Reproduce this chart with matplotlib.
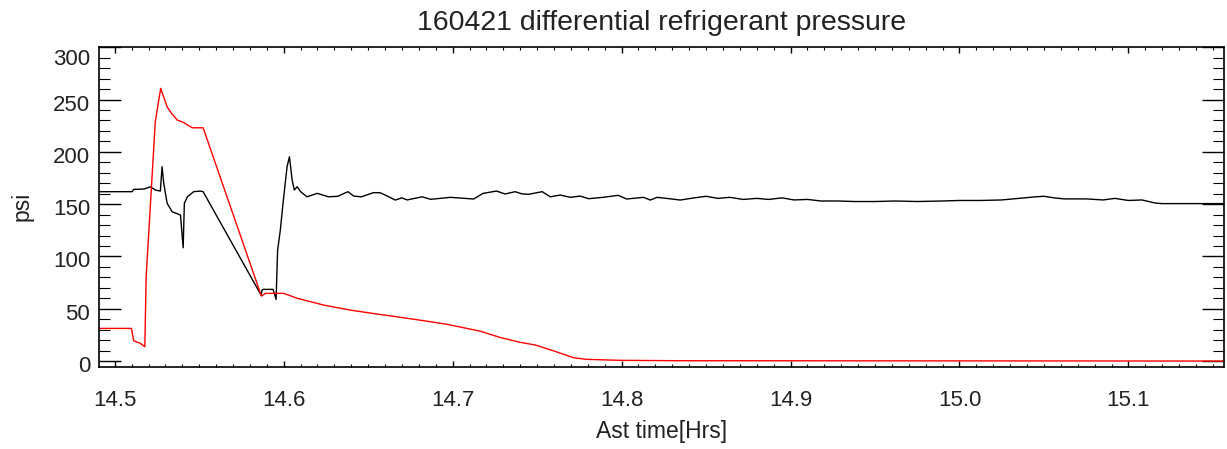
import matplotlib
matplotlib.use("Agg")
import matplotlib.pyplot as plt
from matplotlib.ticker import MultipleLocator, FixedLocator
import matplotlib.transforms as mtransforms

plt.rcParams['font.family'] = ['Liberation Sans', 'DejaVu Sans']

# ---- data ----
time_red = [14.4904, 14.5099, 14.5112, 14.5150, 14.5178, 14.5186, 14.5240, 14.5272,
            14.5310, 14.5340, 14.5370, 14.5408, 14.5458, 14.5523, 14.5868, 14.5892,
            14.5940, 14.6000, 14.6080, 14.6237, 14.6390, 14.6550, 14.6710, 14.6868,
            14.6967, 14.7160, 14.7280, 14.7400, 14.7490, 14.7600, 14.7716, 14.7795,
            14.7990, 14.8350, 14.9500, 15.1570]
psi_red = [31.2, 31.2, 19.4, 17.0, 13.7, 80.6, 228.8, 260.7,
           243.0, 236.0, 230.4, 228.0, 223.0, 223.0, 62.1, 64.7,
           64.7, 64.7, 60.0, 53.5, 48.8, 45.0, 41.4, 37.6,
           35.1, 28.7, 22.6, 17.9, 15.3, 9.6, 3.2, 1.6,
           0.7, 0.3, 0.2, 0.0]

time_black = [14.4904, 14.5103, 14.5112, 14.5172, 14.5211, 14.5240, 14.5270, 14.5280,
              14.5290, 14.5310, 14.5340, 14.5389, 14.5405, 14.5412, 14.5430, 14.5467,
              14.5507, 14.5523, 14.5866, 14.5872, 14.5878, 14.5937, 14.5955, 14.5964,
              14.5980, 14.5996, 14.6020, 14.6034, 14.6050, 14.6063, 14.6080, 14.6100,
              14.6138, 14.6198, 14.6266, 14.6320, 14.6380, 14.6414, 14.6460, 14.6532,
              14.6570, 14.6610, 14.6660, 14.6700, 14.6730, 14.6820, 14.6870, 14.6986,
              14.7124, 14.7180, 14.7260, 14.7310, 14.7370, 14.7410, 14.7450, 14.7530,
              14.7578, 14.7637, 14.7696, 14.7755, 14.7805, 14.7890, 14.7980, 14.8030,
              14.8130, 14.8170, 14.8210, 14.8298, 14.8347, 14.8430, 14.8500, 14.8570,
              14.8640, 14.8720, 14.8800, 14.8870, 14.8950, 14.9020, 14.9100, 14.9180,
              14.9280, 14.9380, 14.9500, 14.9620, 14.9750, 14.9900, 15.0000, 15.0120,
              15.0250, 15.0350, 15.0450, 15.0500, 15.0560, 15.0620, 15.0750, 15.0850,
              15.0920, 15.1000, 15.1080, 15.1160, 15.1200, 15.1570]
psi_black = [161.9, 161.9, 164.1, 164.4, 166.6, 163.5, 162.5, 185.8,
             169.9, 150.8, 142.7, 139.6, 108.3, 150.8, 157.0, 161.9,
             162.5, 161.9, 63.1, 67.9, 68.5, 68.5, 59.0, 106.0,
             125.0, 150.8, 185.8, 195.3, 173.0, 163.5, 166.6, 161.9,
             157.0, 160.3, 157.0, 157.5, 161.9, 157.7, 157.0, 161.0,
             160.9, 158.0, 153.9, 156.0, 154.0, 157.0, 154.6, 156.5,
             154.9, 160.3, 162.5, 159.7, 161.9, 159.8, 159.4, 161.9,
             157.0, 158.7, 156.5, 157.7, 155.2, 156.5, 158.4, 154.9,
             156.5, 153.9, 156.5, 154.9, 153.9, 156.0, 157.5, 155.5,
             156.5, 154.5, 155.5, 154.5, 156.0, 154.0, 154.5, 153.0,
             153.0, 152.5, 152.5, 153.0, 152.5, 153.0, 153.5, 153.5,
             154.0, 155.5, 157.0, 157.5, 156.0, 155.0, 155.0, 154.0,
             155.5, 153.5, 154.0, 151.0, 150.5, 150.5]

x_ticks = [14.5, 14.6, 14.7, 14.8, 14.9, 15.0, 15.1]
x_ticklabels = ['14.5', '14.6', '14.7', '14.8', '14.9', '15.0', '15.1']
y_ticks = [0, 50, 100, 150, 200, 250, 300]
y_ticklabels = ['0', '50', '100', '150', '200', '250', '300']

title = '160421 differential refrigerant pressure'
xlabel = 'Ast time[Hrs]'
ylabel = 'psi'

# ---- figure ----
fig = plt.figure(figsize=(12.27, 4.49), dpi=100)
ax = fig.add_axes([0.0803, 0.1833, 0.9173, 0.7127])

ax.plot(time_black, psi_black, color='black', lw=1.0)
ax.plot(time_red, psi_red, color='#ff0000', lw=1.0)

ax.set_xlim(14.4904, 15.1566)
ax.set_ylim(-5.4, 300.5)

txtcol = '#222222'
ax.xaxis.set_major_locator(FixedLocator(x_ticks))
ax.set_xticklabels(x_ticklabels)
ax.xaxis.set_minor_locator(MultipleLocator(0.01))
ax.yaxis.set_major_locator(FixedLocator(y_ticks))
ax.set_yticklabels(y_ticklabels)
ax.yaxis.set_minor_locator(MultipleLocator(10))

ax.tick_params(axis='x', which='major', direction='in', length=4.5, width=1.0,
               top=True, bottom=True, labelsize=16, pad=17, colors='black', labelcolor=txtcol)
ax.tick_params(axis='x', which='minor', direction='in', length=2.5, width=0.8,
               top=True, bottom=True)
ax.tick_params(axis='y', which='major', direction='in', length=15.8, width=1.0,
               left=True, right=True, labelsize=16, pad=6, colors='black', labelcolor=txtcol)
ax.tick_params(axis='y', which='minor', direction='in', length=7.9, width=0.8,
               left=True, right=True)

for s in ax.spines.values():
    s.set_linewidth(1.2)

# small downward shift of y tick labels as in reference
for lab, v in zip(ax.get_yticklabels(), y_ticks):
    dy = -10 if v == 300 else -3
    lab.set_transform(lab.get_transform() + mtransforms.ScaledTranslation(0, dy / 100.0, fig.dpi_scale_trans))

ax.set_title(title, fontsize=20.5, color=txtcol, pad=12)
ax.set_xlabel(xlabel, fontsize=16.5, color=txtcol, labelpad=6)
ax.set_ylabel(ylabel, fontsize=16.5, color=txtcol, labelpad=14)

fig.savefig('out.png', dpi=100)
